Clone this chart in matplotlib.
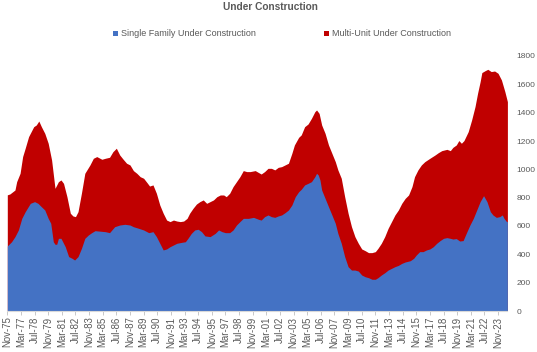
import matplotlib
matplotlib.use("Agg")
import matplotlib.pyplot as plt
from matplotlib.patches import Patch

plt.rcParams['font.family'] = ['Liberation Sans', 'DejaVu Sans']

# ---- data (thousands of units) ----
# Top of the stack (single family + multi-unit) at sampled months
total_dates = [
    "1975-11", "1976-02", "1976-08", "1976-10", "1977-02", "1977-05", "1977-08", "1977-12",
    "1978-06", "1978-09", "1978-12", "1979-03", "1979-07", "1979-11", "1980-03", "1980-07",
    "1980-11", "1981-02", "1981-05", "1981-09", "1982-01", "1982-04", "1982-07", "1982-10",
    "1983-02", "1983-06", "1983-12", "1984-04", "1984-08", "1985-02", "1985-06", "1985-11",
    "1986-03", "1986-07", "1986-11", "1987-03", "1987-07", "1987-11", "1988-03", "1988-07",
    "1988-11", "1989-03", "1989-07", "1989-10", "1990-02", "1990-06", "1990-10", "1991-02",
    "1991-06", "1991-10", "1992-02", "1992-06", "1992-10", "1993-02", "1993-06", "1993-09",
    "1994-01", "1994-05", "1994-09", "1995-01", "1995-05", "1995-09", "1996-01", "1996-05",
    "1996-09", "1997-01", "1997-04", "1997-08", "1997-12", "1998-04", "1998-08", "1998-12",
    "1999-04", "1999-08", "2000-02", "2000-06", "2000-09", "2001-01", "2001-05", "2001-09",
    "2002-01", "2002-05", "2002-09", "2003-01", "2003-05", "2003-09", "2003-12", "2004-05",
    "2004-08", "2004-12", "2005-04", "2005-08", "2005-12", "2006-02", "2006-05", "2006-08",
    "2006-12", "2007-04", "2007-08", "2007-12", "2008-03", "2008-07", "2008-11", "2009-03",
    "2009-07", "2009-11", "2010-03", "2010-07", "2010-11", "2011-03", "2011-07", "2011-11",
    "2012-02", "2012-06", "2012-10", "2013-02", "2013-06", "2013-10", "2014-02", "2014-06",
    "2014-10", "2015-02", "2015-06", "2015-09", "2016-01", "2016-05", "2016-09", "2017-03",
    "2017-09", "2018-01", "2018-05", "2018-11", "2019-03", "2019-06", "2019-10", "2020-01",
    "2020-04", "2020-07", "2020-12", "2021-04", "2021-08", "2021-11", "2022-02", "2022-04",
    "2022-08", "2022-11", "2023-03", "2023-07", "2023-11", "2024-03", "2024-07", "2024-10",
]
total_values = [
    820, 826, 854, 913, 972, 1090, 1149, 1231,
    1301, 1313, 1341, 1301, 1254, 1184, 1066, 866,
    913, 925, 901, 807, 690, 671, 666, 701,
    831, 972, 1031, 1078, 1090, 1071, 1078, 1085,
    1125, 1149, 1101, 1071, 1043, 1031, 991, 972,
    948, 937, 906, 882, 890, 831, 748, 690,
    642, 631, 642, 635, 631, 635, 654, 690,
    725, 755, 772, 784, 760, 772, 784, 807,
    819, 819, 807, 831, 878, 913, 948, 991,
    984, 984, 991, 977, 967, 984, 1007, 1007,
    996, 1014, 1019, 1031, 1043, 1113, 1172, 1226,
    1243, 1301, 1320, 1360, 1407, 1419, 1395, 1313,
    1254, 1172, 1113, 1054, 996, 937, 807, 690,
    595, 525, 478, 438, 426, 412, 412, 419,
    442, 478, 525, 584, 631, 678, 713, 760,
    795, 819, 878, 948, 996, 1031, 1054, 1078,
    1101, 1118, 1132, 1141, 1132, 1155, 1172, 1203,
    1184, 1203, 1266, 1348, 1443, 1537, 1619, 1683,
    1697, 1706, 1690, 1694, 1678, 1631, 1549, 1478,
]

single_dates = [
    "1975-11", "1976-04", "1976-08", "1976-12", "1977-04", "1977-08", "1978-02", "1978-07",
    "1978-11", "1979-03", "1979-07", "1979-11", "1980-02", "1980-05", "1980-07", "1980-09",
    "1980-11", "1981-02", "1981-07", "1981-11", "1982-03", "1982-06", "1982-10", "1983-02",
    "1983-06", "1983-10", "1984-02", "1984-06", "1985-06", "1985-11", "1986-05", "1986-11",
    "1987-05", "1987-11", "1988-03", "1988-09", "1989-03", "1989-09", "1990-02", "1990-06",
    "1990-10", "1991-02", "1991-06", "1991-10", "1992-02", "1992-06", "1992-12", "1993-04",
    "1993-07", "1993-11", "1994-03", "1994-07", "1994-11", "1995-03", "1995-09", "1996-03",
    "1996-07", "1996-11", "1997-03", "1997-08", "1997-12", "1998-04", "1998-08", "1998-12",
    "1999-06", "1999-12", "2000-06", "2000-09", "2001-01", "2001-05", "2001-09", "2002-01",
    "2002-05", "2002-09", "2003-01", "2003-05", "2003-09", "2004-01", "2004-05", "2004-08",
    "2004-12", "2005-04", "2005-08", "2005-12", "2006-02", "2006-04", "2006-06", "2006-08",
    "2006-12", "2007-04", "2007-08", "2007-12", "2008-03", "2008-07", "2008-11", "2009-03",
    "2009-07", "2009-11", "2010-03", "2010-07", "2010-11", "2011-03", "2011-07", "2011-11",
    "2012-02", "2012-06", "2012-10", "2013-02", "2013-06", "2013-10", "2014-02", "2014-06",
    "2014-10", "2015-04", "2015-08", "2015-11", "2016-03", "2016-07", "2016-11", "2017-03",
    "2017-07", "2017-11", "2018-03", "2018-07", "2018-11", "2019-03", "2019-06", "2019-10",
    "2020-02", "2020-06", "2020-08", "2020-10", "2021-02", "2021-06", "2021-10", "2022-02",
    "2022-06", "2022-10", "2023-02", "2023-05", "2023-09", "2024-01", "2024-04", "2024-06",
    "2024-09", "2024-10",
]
single_values = [
    459, 489, 525, 572, 654, 701, 760, 772,
    760, 736, 713, 654, 619, 489, 471, 471,
    513, 513, 454, 384, 372, 360, 384, 442,
    513, 536, 553, 567, 560, 553, 595, 607,
    612, 607, 595, 584, 572, 553, 560, 525,
    478, 431, 438, 454, 466, 478, 485, 489,
    513, 548, 572, 577, 560, 530, 525, 548,
    572, 560, 553, 553, 572, 607, 631, 654,
    654, 661, 647, 642, 666, 678, 666, 661,
    671, 678, 694, 713, 748, 807, 842, 859,
    890, 901, 913, 948, 972, 960, 925, 854,
    795, 736, 678, 619, 548, 478, 384, 313,
    289, 289, 282, 254, 242, 235, 224, 224,
    235, 254, 270, 289, 301, 313, 322, 336,
    346, 355, 372, 395, 419, 419, 431, 438,
    454, 478, 497, 513, 518, 513, 508, 511,
    494, 497, 525, 553, 607, 654, 713, 772,
    814, 772, 701, 678, 661, 666, 678, 654,
    631, 631,
]

start_month = "1975-11"
end_month = "2024-10"
tick_every = 16
y_ticks = [0, 200, 400, 600, 800, 1000, 1200, 1400, 1600, 1800]
series_labels = ["Single Family Under Construction", "Multi-Unit Under Construction"]
title = "Under Construction"

MONTHS = ["Jan", "Feb", "Mar", "Apr", "May", "Jun", "Jul", "Aug", "Sep", "Oct", "Nov", "Dec"]


def month_index(s):
    y, m = s.split("-")
    y0, m0 = start_month.split("-")
    return (int(y) * 12 + int(m)) - (int(y0) * 12 + int(m0))


def month_label(i):
    y0, m0 = start_month.split("-")
    k = int(y0) * 12 + int(m0) - 1 + i
    return f"{MONTHS[k % 12]}-{(k // 12) % 100:02d}"


tx = [month_index(d) for d in total_dates]
sx = [month_index(d) for d in single_dates]
n_last = month_index(end_month)

BLUE = "#4472C4"
RED = "#C00000"
GREY = "#595959"

W, H = 537, 352
fig = plt.figure(figsize=(W / 100, H / 100), dpi=100)
ax = fig.add_axes([7.3 / W, 41 / H, (507.4 - 7.3) / W, 255 / H])

ax.fill_between(tx, 0, total_values, color=RED, lw=0, zorder=1)
ax.fill_between(sx, 0, single_values, color=BLUE, lw=0, zorder=2)

ax.set_xlim(0, n_last)
ax.set_ylim(0, 1800)

xt = list(range(0, n_last + 1, tick_every))
ax.set_xticks(xt)
ax.set_xticklabels([month_label(i) for i in xt], rotation=90, fontsize=6.9, color=GREY)
ax.tick_params(axis="x", direction="out", length=3, width=0.6, color="#BFBFBF", pad=1)

ax.yaxis.tick_right()
ax.set_yticks(y_ticks)
ax.set_yticklabels([str(v) for v in y_ticks], fontsize=6.0, color=GREY)
ax.tick_params(axis="y", length=0, pad=6.5)

for s in ["top", "left", "right"]:
    ax.spines[s].set_visible(False)
ax.spines["bottom"].set_color("#D9D9D9")
ax.spines["bottom"].set_linewidth(0.8)
ax.set_facecolor("white")

fig.text(270 / W, 1 - 7.5 / H, title, ha="center", va="center",
         fontsize=7.3, fontweight="bold", color=GREY)

handles = [Patch(facecolor=BLUE, edgecolor="none"), Patch(facecolor=RED, edgecolor="none")]
fig.legend(handles, series_labels, loc="center", bbox_to_anchor=(282 / W, 1 - 34 / H),
           ncol=2, frameon=False, fontsize=6.5, labelcolor=GREY,
           handlelength=0.5, handleheight=0.5, handletextpad=0.35, columnspacing=7.6,
           borderpad=0, borderaxespad=0)

fig.savefig("out.png", dpi=100, facecolor="white")
